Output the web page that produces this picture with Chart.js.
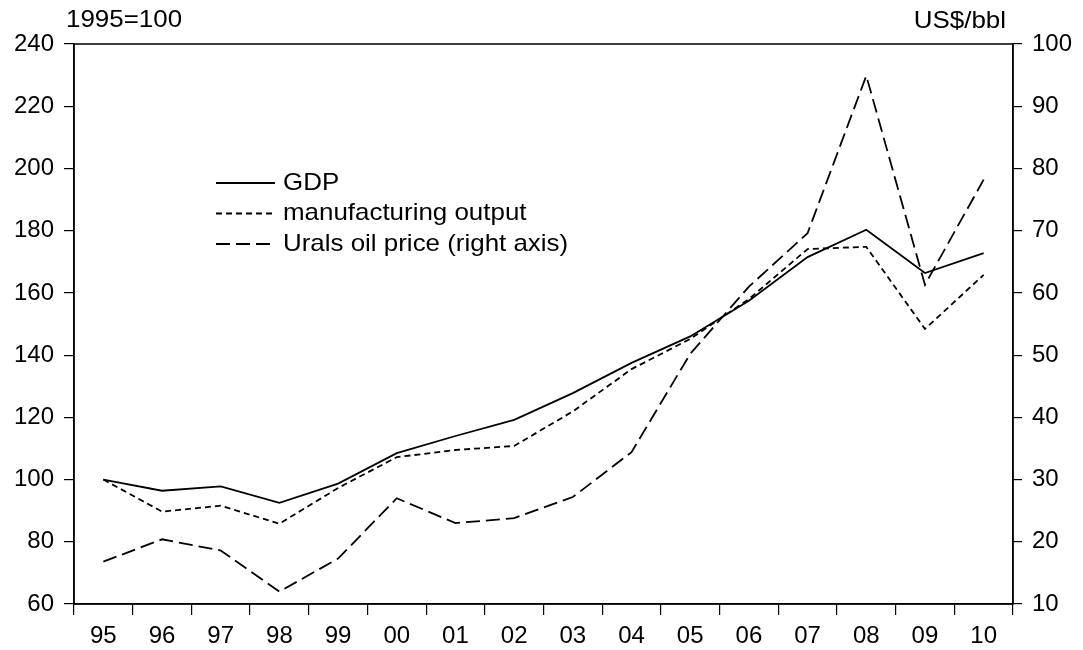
<!DOCTYPE html>
<html>
<head>
<meta charset="utf-8">
<script src="https://cdn.jsdelivr.net/npm/chart.js@4"></script>
<style>
  html, body { margin: 0; padding: 0; background: #fff; }
  #wrap { width: 1083px; height: 650px; position: relative; }
</style>
</head>
<body>
<div id="wrap"><canvas id="oilChart"></canvas></div>
<script>
// data
const years = ['95', '96', '97', '98', '99', '00', '01', '02', '03', '04', '05', '06', '07', '08', '09', '10'];
const gdp = [100, 96.4, 97.8, 92.5, 98.7, 108.5, 114, 119.2, 127.8, 137.5, 146, 157.5, 171.5, 180.3, 166.4, 172.8];
const manufacturing = [100, 89.7, 91.6, 85.8, 97.3, 107.2, 109.5, 110.8, 121.9, 135.5, 145.2, 158, 174.1, 174.8, 148.4, 165.8];
const uralsOil = [16.8, 20.4, 18.6, 12.0, 17.3, 27.0, 23.0, 23.8, 27.2, 34.4, 50.2, 61.0, 69.6, 94.9, 61.3, 78.2];

const leftUnit = '1995=100';
const rightUnit = 'US$/bbl';

const FONT = '"Liberation Sans", Arial, sans-serif';
const STRETCH = 1.08; // source text is a little wider than Liberation Sans

// draw text stretched a bit horizontally, anchored at x
function wideText(ctx, txt, x, y, align) {
  ctx.save();
  ctx.translate(x, y);
  ctx.scale(STRETCH, 1);
  ctx.textAlign = align;
  ctx.fillText(txt, 0, 0);
  ctx.restore();
}

// frame, unit labels and the in-plot legend
const framePlugin = {
  id: 'frame',
  afterDraw(chart) {
    const { ctx, chartArea: a } = chart;
    ctx.save();
    ctx.strokeStyle = '#000';
    ctx.lineWidth = 1.5;
    ctx.strokeRect(a.left, a.top, a.right - a.left, a.bottom - a.top);

    ctx.fillStyle = '#000';
    ctx.font = '24px ' + FONT;
    ctx.textBaseline = 'middle';
    wideText(ctx, leftUnit, 66, 20, 'left');
    wideText(ctx, rightUnit, 1006, 21, 'right');

    // legend
    let y = 183;
    chart.data.datasets.forEach(ds => {
      ctx.beginPath();
      ctx.setLineDash(ds.borderDash || []);
      ctx.lineWidth = ds.borderWidth;
      ctx.moveTo(216, y);
      ctx.lineTo(275, y);
      ctx.stroke();
      ctx.setLineDash([]);
      wideText(ctx, ds.label, 283, y, 'left');
      y += 30.5;
    });
    ctx.restore();
  }
};

const tickFont = { family: FONT, size: 24 };

new Chart(document.getElementById('oilChart'), {
  type: 'line',
  data: {
    labels: years,
    datasets: [
      { label: 'GDP', data: gdp, yAxisID: 'y', borderColor: '#000', borderWidth: 1.8, borderDash: [] },
      { label: 'manufacturing output', data: manufacturing, yAxisID: 'y', borderColor: '#000', borderWidth: 1.8, borderDash: [6, 4] },
      { label: 'Urals oil price (right axis)', data: uralsOil, yAxisID: 'y1', borderColor: '#000', borderWidth: 1.8, borderDash: [14, 6] }
    ]
  },
  options: {
    responsive: true,
    maintainAspectRatio: false,
    animation: false,
    layout: { padding: { top: 44, left: 0, right: 0, bottom: 0 } },
    elements: { point: { radius: 0 }, line: { tension: 0, fill: false } },
    plugins: { legend: { display: false }, tooltip: { enabled: false } },
    scales: {
      x: {
        offset: true,
        grid: { offset: true, drawOnChartArea: false, tickLength: 11, color: '#000', lineWidth: 1.2 },
        border: { color: '#000', width: 1.5 },
        ticks: { color: '#000', font: tickFont, padding: 7, maxRotation: 0, autoSkip: false },
        afterFit: s => { s.height = 46; }
      },
      y: {
        position: 'left',
        min: 60, max: 240,
        grid: { drawOnChartArea: false, tickLength: 10, color: '#000', lineWidth: 1.2 },
        border: { color: '#000', width: 1.5 },
        ticks: { stepSize: 20, color: '#000', font: tickFont, padding: 10 },
        afterFit: s => { s.width = 74; }
      },
      y1: {
        position: 'right',
        min: 10, max: 100,
        grid: { drawOnChartArea: false, tickLength: 9, color: '#000', lineWidth: 1.2 },
        border: { color: '#000', width: 1.5 },
        ticks: { stepSize: 10, color: '#000', font: tickFont, padding: 10 },
        afterFit: s => { s.width = 70; }
      }
    }
  },
  plugins: [framePlugin]
});
</script>
</body>
</html>
